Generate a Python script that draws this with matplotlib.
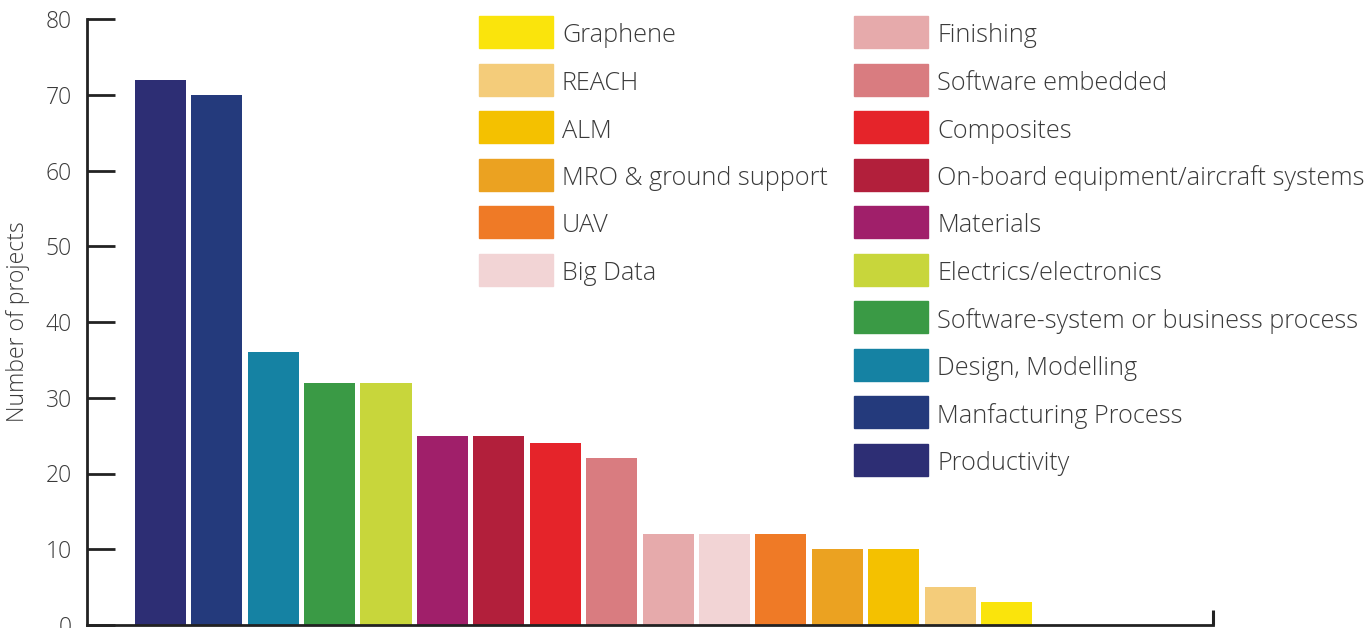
import matplotlib
matplotlib.use("Agg")
import matplotlib.pyplot as plt
from matplotlib.patches import Rectangle

categories = ["Productivity", "Manfacturing Process", "Design, Modelling",
              "Software-system or business process", "Electrics/electronics",
              "Materials", "On-board equipment/aircraft systems", "Composites",
              "Software embedded", "Finishing", "Big Data", "UAV",
              "MRO & ground support", "ALM", "REACH", "Graphene"]
values = [72, 70, 36, 32, 32, 25, 25, 24, 22, 12, 12, 12, 10, 10, 5, 3]
colors = ["#2d2e74", "#243a7c", "#1582a3", "#3a9a45", "#c8d63b",
          "#a01f6a", "#b21f3b", "#e5242a", "#d97c80", "#e6aaab",
          "#f2d4d5", "#ef7a26", "#eba221", "#f4c100", "#f4cc7a", "#fae40c"]
yticks = [0, 10, 20, 30, 40, 50, 60, 70, 80]

plt.rcParams['font.family'] = ['Open Sans', 'DejaVu Sans']
txt_color = "#3a3a3a"
axis_color = "#222222"

W, H = 1367, 628
fig = plt.figure(figsize=(W / 100, H / 100), dpi=100)
ax = fig.add_axes([87 / W, 3 / H, (1213 - 87) / W, (625 - 19) / H])

x = list(range(len(values)))
ax.bar(x, values, width=0.905, color=colors, zorder=2)

xmin, xmax = -1.30, 18.66
ax.set_xlim(xmin, xmax)
ax.set_ylim(0, 80)
ax.set_yticks(yticks)
ax.set_yticklabels([str(t) for t in yticks])
ax.tick_params(axis='y', direction='in', length=20, width=2.0, color=axis_color,
               labelsize=16.5, labelcolor=txt_color, pad=11)
for lbl in ax.get_yticklabels():
    lbl.set_fontweight('light')
ax.set_xticks([xmax])
ax.set_xticklabels([""])
ax.tick_params(axis='x', direction='in', length=11, width=2.2, color=axis_color)

for s in ["top", "right"]:
    ax.spines[s].set_visible(False)
for s in ["left", "bottom"]:
    ax.spines[s].set_linewidth(2.0)
    ax.spines[s].set_color(axis_color)

ax.set_ylabel("Number of projects", fontsize=16.5, color=txt_color, fontweight='light')
ax.yaxis.set_label_coords(-57 / (1213 - 87), 0.5)

# legend (reverse order, 6 + 10 split)
leg_items = list(zip(categories, colors))[::-1]
col1 = leg_items[:6]
col2 = leg_items[6:]
row_step = 47.5
def draw_col(items, x0, xtext):
    for i, (name, col) in enumerate(items):
        yc = 32 + i * row_step
        fig.patches.append(Rectangle((x0 / W, 1 - (yc + 16) / H), 74 / W, 32 / H,
                                     transform=fig.transFigure, color=col))
        fig.text(xtext / W, 1 - (yc + 1) / H, name, fontsize=18.2, color=txt_color,
                 va='center_baseline', ha='left', fontweight='light')
draw_col(col1, 479, 562)
draw_col(col2, 854, 937)

fig.savefig("out.png", dpi=100)
